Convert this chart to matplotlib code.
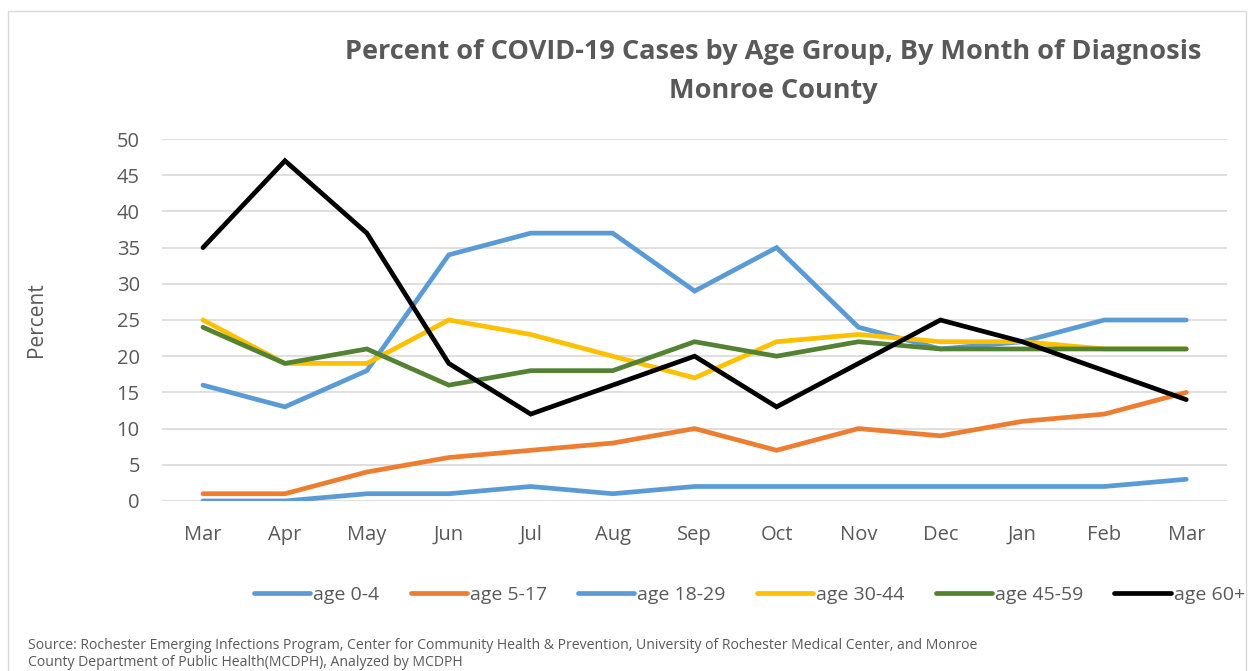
import matplotlib.pyplot as plt
from matplotlib.patches import Rectangle

# months of diagnosis
months = ["Mar", "Apr", "May", "Jun", "Jul", "Aug", "Sep", "Oct", "Nov", "Dec", "Jan", "Feb", "Mar"]

# percent of cases per age group
age_0_4 = [0, 0, 1, 1, 2, 1, 2, 2, 2, 2, 2, 2, 3]
age_5_17 = [1, 1, 4, 6, 7, 8, 10, 7, 10, 9, 11, 12, 15]
age_18_29 = [16, 13, 18, 34, 37, 37, 29, 35, 24, 21, 22, 25, 25]
age_30_44 = [25, 19, 19, 25, 23, 20, 17, 22, 23, 22, 22, 21, 21]
age_45_59 = [24, 19, 21, 16, 18, 18, 22, 20, 22, 21, 21, 21, 21]
age_60_plus = [35, 47, 37, 19, 12, 16, 20, 13, 19, 25, 22, 18, 14]

labels = ["age 0-4", "age 5-17", "age 18-29", "age 30-44", "age 45-59", "age 60+"]
colors = ["#5B9BD5", "#ED7D31", "#5B9BD5", "#FFC000", "#548235", "#000000"]

plt.rcParams['font.family'] = ['Open Sans', 'DejaVu Sans']
gray = "#595959"

fig = plt.figure(figsize=(12.51, 6.71), dpi=100)
ax = fig.add_axes([0.1295, 0.2534, 0.8515, 0.5394])

x = list(range(len(months)))
series = [age_0_4, age_5_17, age_18_29, age_30_44, age_45_59, age_60_plus]
for y, lab, c in zip(series, labels, colors):
    ax.plot(x, y, color=c, lw=3.4, label=lab, solid_capstyle='round', solid_joinstyle='miter')

ax.set_xlim(-0.5, len(months) - 0.5)
ax.set_ylim(0, 50)
ax.set_yticks(range(0, 51, 5))
ax.set_xticks(x)
ax.set_xticklabels(months)
ax.tick_params(length=0, labelsize=14.5, colors=gray)
ax.tick_params(axis='x', pad=17)
ax.tick_params(axis='y', pad=16)
ax.grid(axis='y', color="#D9D9D9", lw=1.2)
ax.set_axisbelow(True)
for s in ax.spines.values():
    s.set_visible(False)

ax.set_ylabel("Percent", fontsize=15, color=gray)
ax.yaxis.set_label_coords(-0.108, 0.5)

fig.text(0.618, 0.922, "Percent of COVID-19 Cases by Age Group, By Month of Diagnosis",
         ha='center', va='center', fontsize=19.5, fontweight='bold', color=gray)
fig.text(0.618, 0.864, "Monroe County",
         ha='center', va='center', fontsize=19.5, fontweight='bold', color=gray)

fig.legend(loc='center', bbox_to_anchor=(0.599, 0.114), ncol=6, frameon=False,
           fontsize=14, handlelength=2.9, handletextpad=0.15, columnspacing=1.6,
           labelcolor=gray)

fig.text(0.022, 0.038, "Source: Rochester Emerging Infections Program, Center for Community Health & Prevention, University of Rochester Medical Center, and Monroe",
         fontsize=10.1, color=gray, va='center')
fig.text(0.022, 0.012, "County Department of Public Health(MCDPH), Analyzed by MCDPH",
         fontsize=10.1, color=gray, va='center')

# light border around the chart
fig.patches.append(Rectangle((0.0064, -0.01), 0.99, 0.9936, transform=fig.transFigure,
                             fill=False, edgecolor="#D9D9D9", lw=1))

fig.savefig("out.png", dpi=100)
